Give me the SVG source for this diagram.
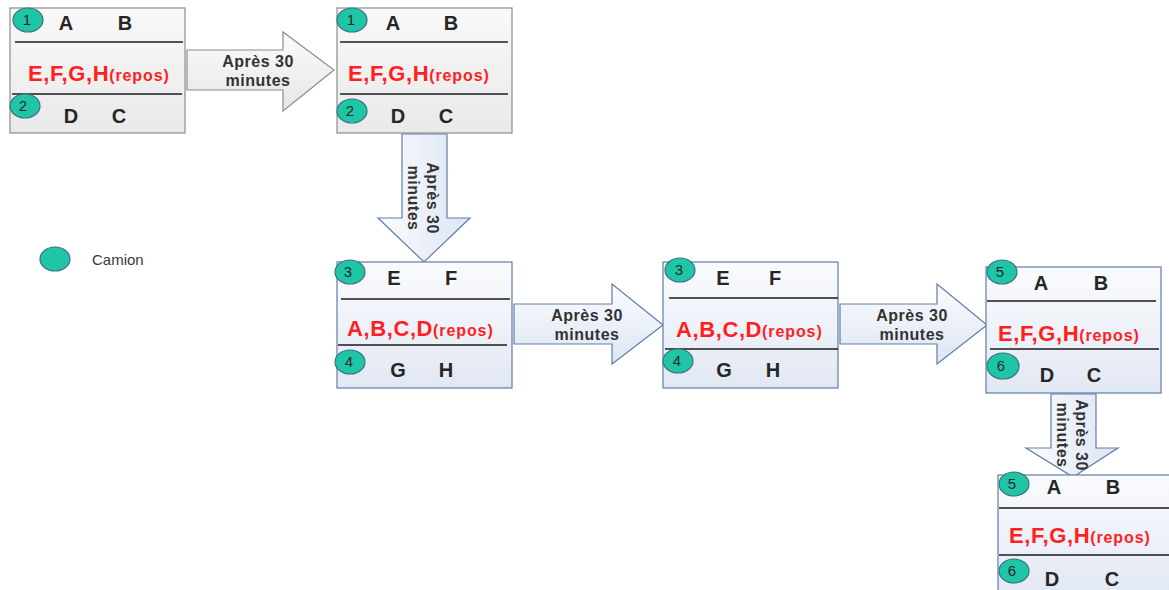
<svg xmlns="http://www.w3.org/2000/svg" width="1169" height="590" viewBox="0 0 1169 590">
  <defs>
    <linearGradient id="gGray" x1="0" y1="0" x2="0" y2="1">
      <stop offset="0" stop-color="#f9f9f9"/>
      <stop offset="1" stop-color="#e9e9e9"/>
    </linearGradient>
    <linearGradient id="gBlue" x1="0" y1="0" x2="0" y2="1">
      <stop offset="0" stop-color="#fafbfe"/>
      <stop offset="1" stop-color="#e2e8f3"/>
    </linearGradient>
    <linearGradient id="gArrowGray" x1="0" y1="0" x2="0" y2="1">
      <stop offset="0" stop-color="#fbfbfb"/>
      <stop offset="1" stop-color="#e6e6e6"/>
    </linearGradient>
    <linearGradient id="gArrowBlue" x1="0" y1="0" x2="0" y2="1">
      <stop offset="0" stop-color="#fafcff"/>
      <stop offset="1" stop-color="#dde5f2"/>
    </linearGradient>
    <linearGradient id="gArrowBlueV" x1="0" y1="0" x2="1" y2="0">
      <stop offset="0" stop-color="#fafcff"/>
      <stop offset="1" stop-color="#dde5f2"/>
    </linearGradient>
  </defs>
  <style>
    .boxG { fill: url(#gGray); stroke: #8c8c8c; stroke-width: 1.2; }
    .boxB { fill: url(#gBlue); stroke: #5f7ea8; stroke-width: 1.2; }
    .sep { stroke: #1a1a1a; stroke-width: 1.3; }
    .truck { fill: #1ec6a6; stroke: #3f6f86; stroke-width: 1.2; }
    .num { font-family: "Liberation Sans", Arial, sans-serif; font-size: 15px; fill: #2a2a2a; text-anchor: middle; }
    .lbl { font-family: "Liberation Sans", Arial, sans-serif; font-size: 20px; font-weight: bold; fill: #262626; text-anchor: middle; }
    .rest { font-family: "Liberation Sans", Arial, sans-serif; font-size: 22px; font-weight: bold; fill: #ff1f1f; letter-spacing: 0.6px; }
    .rest tspan { font-size: 16px; letter-spacing: 0.9px; }
    .arw { font-family: "Liberation Sans", Arial, sans-serif; font-size: 16px; font-weight: bold; fill: #333333; text-anchor: middle; letter-spacing: 0.5px; }
    .arrG { fill: url(#gArrowGray); stroke: #8c8c8c; stroke-width: 1.2; }
    .arrB { fill: url(#gArrowBlue); stroke: #5f7ea8; stroke-width: 1.2; }
    .arrBV { fill: url(#gArrowBlueV); stroke: #5f7ea8; stroke-width: 1.2; }
    .legend { font-family: "Liberation Sans", Arial, sans-serif; font-size: 15px; fill: #3a3a3a; }
  </style>

  <rect width="1169" height="590" fill="#ffffff"/>

  <!-- connectors: block arrows with captions -->
  <g id="connectors">
    <g id="arrow-1">
      <polygon class="arrG" points="187,50 283,50 283,32 334,70 283,111 283,90 187,90"/>
      <text class="arw" x="258" y="67">Après 30</text>
      <text class="arw" x="258" y="86">minutes</text>
    </g>
    <g id="arrow-2">
      <polygon class="arrBV" points="402,134 447,134 447,218 470,218 424,262 378,218 402,218"/>
      <g transform="translate(424,198) rotate(90)">
        <text class="arw" x="0" y="-3">Après 30</text>
        <text class="arw" x="0" y="16">minutes</text>
      </g>
    </g>
    <g id="arrow-3">
      <polygon class="arrB" points="514,304 612,304 612,284 663,325 612,364 612,344 514,344"/>
      <text class="arw" x="587" y="321">Après 30</text>
      <text class="arw" x="587" y="340">minutes</text>
    </g>
    <g id="arrow-4">
      <polygon class="arrB" points="840,304 937,304 937,284 987,325 937,364 937,344 840,344"/>
      <text class="arw" x="912" y="321">Après 30</text>
      <text class="arw" x="912" y="340">minutes</text>
    </g>
    <g id="arrow-5">
      <polygon class="arrBV" points="1051,394 1096,394 1096,448 1118,448 1073,477 1026,448 1051,448"/>
      <g transform="translate(1073,435) rotate(90)">
        <text class="arw" x="0" y="-3">Après 30</text>
        <text class="arw" x="0" y="16">minutes</text>
      </g>
    </g>
  </g>

  <!-- state 1 -->
  <g id="state-1">
    <rect class="boxG" x="10" y="8" width="175" height="125"/>
    <line class="sep" x1="15" y1="42" x2="183" y2="42"/>
    <line class="sep" x1="12" y1="94" x2="182" y2="94"/>
    <ellipse class="truck" cx="28" cy="20" rx="15" ry="12"/>
    <text class="num" x="27" y="25">1</text>
    <text class="lbl" x="66" y="30">A</text>
    <text class="lbl" x="125" y="30">B</text>
    <text class="rest" x="28" y="81">E,F,G,H<tspan>(repos)</tspan></text>
    <ellipse class="truck" cx="25" cy="106" rx="15" ry="12"/>
    <text class="num" x="23" y="111">2</text>
    <text class="lbl" x="71" y="123">D</text>
    <text class="lbl" x="119" y="123">C</text>
  </g>

  <!-- state 2 -->
  <g id="state-2">
    <rect class="boxG" x="337" y="8" width="175" height="125"/>
    <line class="sep" x1="340" y1="42" x2="508" y2="42"/>
    <line class="sep" x1="340" y1="94" x2="508" y2="94"/>
    <ellipse class="truck" cx="352" cy="20" rx="15" ry="12"/>
    <text class="num" x="351" y="25">1</text>
    <text class="lbl" x="393" y="30">A</text>
    <text class="lbl" x="451" y="30">B</text>
    <text class="rest" x="348" y="81">E,F,G,H<tspan>(repos)</tspan></text>
    <ellipse class="truck" cx="352" cy="111" rx="15" ry="12"/>
    <text class="num" x="350" y="116">2</text>
    <text class="lbl" x="398" y="123">D</text>
    <text class="lbl" x="446" y="123">C</text>
  </g>

  <!-- state 3 -->
  <g id="state-3">
    <rect class="boxB" x="337" y="262" width="175" height="126"/>
    <line class="sep" x1="341" y1="299" x2="510" y2="299"/>
    <line class="sep" x1="338" y1="345" x2="507" y2="345"/>
    <ellipse class="truck" cx="350" cy="272" rx="15" ry="12"/>
    <text class="num" x="348" y="277">3</text>
    <text class="lbl" x="394" y="285">E</text>
    <text class="lbl" x="451" y="285">F</text>
    <text class="rest" x="347" y="336">A,B,C,D<tspan>(repos)</tspan></text>
    <ellipse class="truck" cx="350" cy="362" rx="15" ry="12"/>
    <text class="num" x="349" y="367">4</text>
    <text class="lbl" x="398" y="377">G</text>
    <text class="lbl" x="446" y="377">H</text>
  </g>

  <!-- state 4 -->
  <g id="state-4">
    <rect class="boxB" x="663" y="262" width="175" height="126"/>
    <line class="sep" x1="669" y1="298" x2="838" y2="298"/>
    <line class="sep" x1="665" y1="349" x2="838" y2="349"/>
    <ellipse class="truck" cx="680" cy="270" rx="15" ry="12"/>
    <text class="num" x="679" y="275">3</text>
    <text class="lbl" x="723" y="285">E</text>
    <text class="lbl" x="775" y="285">F</text>
    <text class="rest" x="676" y="337">A,B,C,D<tspan>(repos)</tspan></text>
    <ellipse class="truck" cx="678" cy="361" rx="15" ry="12"/>
    <text class="num" x="677" y="366">4</text>
    <text class="lbl" x="724" y="377">G</text>
    <text class="lbl" x="773" y="377">H</text>
  </g>

  <!-- state 5 -->
  <g id="state-5">
    <rect class="boxB" x="986" y="267" width="175" height="126"/>
    <line class="sep" x1="987" y1="301" x2="1156" y2="301"/>
    <line class="sep" x1="990" y1="349" x2="1159" y2="349"/>
    <ellipse class="truck" cx="1002" cy="272" rx="15" ry="12"/>
    <text class="num" x="1000" y="277">5</text>
    <text class="lbl" x="1041" y="290">A</text>
    <text class="lbl" x="1101" y="290">B</text>
    <text class="rest" x="998" y="341">E,F,G,H<tspan>(repos)</tspan></text>
    <ellipse class="truck" cx="1003" cy="366" rx="16" ry="13"/>
    <text class="num" x="1001" y="371">6</text>
    <text class="lbl" x="1047" y="382">D</text>
    <text class="lbl" x="1094" y="382">C</text>
  </g>

  <!-- state 6 -->
  <g id="state-6">
    <rect class="boxB" x="998" y="475" width="175" height="120"/>
    <line class="sep" x1="999" y1="508" x2="1169" y2="508"/>
    <line class="sep" x1="999" y1="555" x2="1169" y2="555"/>
    <ellipse class="truck" cx="1014" cy="484" rx="15" ry="12"/>
    <text class="num" x="1012" y="489">5</text>
    <text class="lbl" x="1054" y="494">A</text>
    <text class="lbl" x="1113" y="494">B</text>
    <text class="rest" x="1009" y="543">E,F,G,H<tspan>(repos)</tspan></text>
    <ellipse class="truck" cx="1014" cy="571" rx="15" ry="12"/>
    <text class="num" x="1012" y="576">6</text>
    <text class="lbl" x="1052" y="586">D</text>
    <text class="lbl" x="1112" y="586">C</text>
  </g>

  <!-- legend -->
  <g id="legend">
    <ellipse class="truck" cx="55" cy="259" rx="15" ry="12"/>
    <text class="legend" x="92" y="265">Camion</text>
  </g>
</svg>
